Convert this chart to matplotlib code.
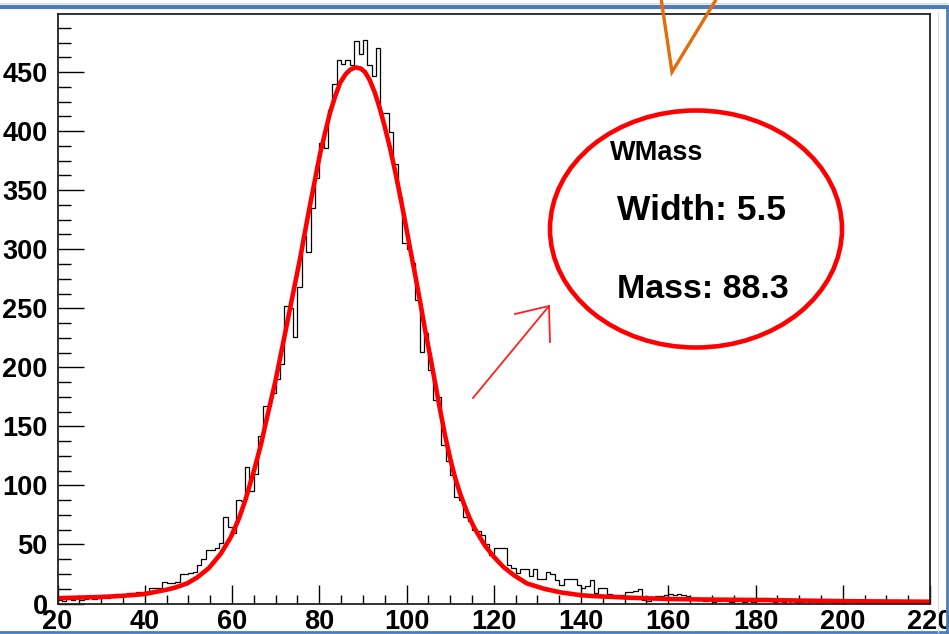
import matplotlib
matplotlib.use("Agg")
import matplotlib.pyplot as plt
from matplotlib.patches import Ellipse
from matplotlib.lines import Line2D
from matplotlib.ticker import MultipleLocator
import numpy as np

# ---------------- data ----------------
bin_low = 20
bin_high = 220
counts = [
    3, 2, 4, 3, 5, 3, 4, 6, 4, 5,
    7, 5, 6, 8, 6, 7, 9, 8, 10, 10,
    10, 13, 13, 13, 18, 17, 17, 18, 25, 25,
    26, 27, 33, 38, 45, 45, 47, 51, 73, 65,
    60, 88, 87, 116, 95, 110, 142, 167, 167, 178,
    190, 203, 252, 250, 226, 268, 311, 298, 335, 360,
    390, 386, 418, 440, 460, 457, 460, 456, 476, 465,
    477, 456, 447, 470, 415, 415, 399, 372, 344, 305,
    300, 288, 257, 213, 229, 198, 172, 175, 134, 121,
    109, 90, 88, 73, 70, 62, 61, 58, 50, 41,
    47, 47, 47, 33, 30, 26, 29, 29, 23, 29,
    21, 21, 27, 25, 20, 16, 21, 21, 21, 16,
    13, 15, 20, 9, 13, 13, 8, 7, 7, 7,
    10, 10, 11, 12, 3, 2, 5, 6, 6, 7,
    8, 7, 8, 7, 6, 4, 4, 3, 2, 3,
    1, 2, 4, 2, 1, 2, 3, 1, 2, 1,
    2, 5, 5, 2, 1, 2, 1, 0, 2, 1,
    1, 0, 1, 2, 0, 1, 1, 0, 1, 0,
    1, 3, 3, 1, 0, 1, 0, 1, 3, 0,
    1, 0, 3, 0, 1, 0, 1, 0, 1, 0,
]

fit_x = [20, 25, 30, 35, 40, 42, 44.8, 47, 49.7, 52, 54.7, 57.4, 59.7, 61.6,
         63.1, 65, 66.6, 68, 70, 71.8, 73.7, 75.6, 77.5, 79.4, 80.2, 81.3,
         82.5, 83.7, 84.8, 86, 87.1, 88.3, 89.5, 90.5, 91.6, 92.8, 93.9, 95,
         96.2, 97.4, 98.5, 99.7, 100.8, 102, 103.2, 104.3, 105.5, 106.6,
         107.7, 108.8, 110, 111.1, 112.3, 113.4, 114.5, 115.7, 117, 118,
         119.9, 122.2, 124.6, 127.6, 131.5, 135.2, 140, 142.8, 150.5, 160,
         170, 180, 190, 200, 210, 220]
fit_y = [4.5, 5, 5.5, 6.5, 8, 9.5, 11.5, 13.5, 17, 22, 30, 42, 56, 72,
         88, 112, 134, 157, 189, 222, 257, 292, 330, 366, 381, 398,
         416, 430, 441, 448, 452, 454, 453, 450, 443, 432, 419, 404,
         386, 366, 346, 323, 301, 278, 254, 231, 208, 186,
         164, 143, 123, 107, 93, 82, 72, 63, 55, 49,
         40, 31, 24, 17, 12.5, 9.5, 7, 6.3, 5, 3.8,
         3.3, 3, 2.5, 2, 1.7, 1.5]

x_ticks = [20, 40, 60, 80, 100, 120, 140, 160, 180, 200, 220]
y_ticks = [0, 50, 100, 150, 200, 250, 300, 350, 400, 450]

title_text = "WMass"
width_text = "Width: 5.5"
mass_text = "Mass: 88.3"

# ---------------- figure ----------------
W, H = 949, 634
fig = plt.figure(figsize=(W / 100, H / 100), dpi=100)
fig.patch.set_facecolor("white")
FONT = "Liberation Sans"

def fx(px):
    return px / W

def fy(py):
    return 1 - py / H

ax_l, ax_r, ax_t, ax_b = 57.5, 930, 13.5, 603.5
ax = fig.add_axes([fx(ax_l), fy(ax_b), (ax_r - ax_l) / W, (ax_b - ax_t) / H])

edges = np.arange(bin_low, bin_high + 1, 1)
ax.stairs(counts, edges, color="black", linewidth=0.9, baseline=None)
ax.plot(fit_x, fit_y, color="#ff0000", linewidth=3.3, solid_capstyle="butt")

ax.set_xlim(bin_low, bin_high)
ax.set_ylim(0, 499.6)

ax.set_xticks(x_ticks)
ax.set_yticks(y_ticks)
ax.xaxis.set_minor_locator(MultipleLocator(5))
ax.yaxis.set_minor_locator(MultipleLocator(12.5))
ax.tick_params(axis="both", which="both", direction="in", top=False, right=False,
               width=1.0, color="black")
ax.tick_params(axis="y", which="major", length=18.7, pad=7)
ax.tick_params(axis="y", which="minor", length=9.4)
ax.tick_params(axis="x", which="major", length=13.7, pad=4)
ax.tick_params(axis="x", which="minor", length=6.8)
for lab in ax.get_xticklabels() + ax.get_yticklabels():
    lab.set_fontfamily(FONT)
    lab.set_fontweight("bold")
    lab.set_fontsize(19.5)
for s in ax.spines.values():
    s.set_linewidth(1.3)
    s.set_color("#222222")

# ---------------- slide decorations ----------------
blue = "#4A7EBB"
fig.add_artist(Line2D([0, fx(947)], [fy(2.5), fy(2.5)], color="#d5dcea", lw=1.0,
                      transform=fig.transFigure))
fig.add_artist(Line2D([0, fx(947)], [fy(7), fy(7)], color=blue, lw=3.0,
                      transform=fig.transFigure))
fig.add_artist(Line2D([fx(946.5), fx(946.5)], [fy(7), fy(632)], color=blue, lw=2.0,
                      transform=fig.transFigure))
fig.add_artist(Line2D([0, fx(947)], [fy(632), fy(632)], color=blue, lw=2.0,
                      transform=fig.transFigure))
fig.add_artist(Line2D([fx(938), fx(938)], [fy(12), fy(632)], color="#dddddd", lw=0.8,
                      transform=fig.transFigure))

orange = "#E46C0A"
fig.add_artist(Line2D([fx(661), fx(672), fx(717)], [fy(-2), fy(72), fy(-2)],
                      color=orange, lw=2.4, transform=fig.transFigure,
                      solid_joinstyle="miter"))

# red arrow
fig.add_artist(Line2D([fx(473), fx(549)], [fy(398), fy(306)], color="#ff2020", lw=1.3,
                      transform=fig.transFigure))
fig.add_artist(Line2D([fx(515), fx(549), fx(550)], [fy(314), fy(306), fy(342)],
                      color="#ff2020", lw=1.3, transform=fig.transFigure))

# red ellipse
fig.add_artist(Ellipse((fx(696), fy(229)), 292 / W, 237 / H, fill=False,
                       edgecolor="#ff0000", lw=3.3, transform=fig.transFigure))

fig.text(fx(610), fy(153), title_text, fontfamily=FONT, fontweight="bold",
         fontsize=19.5, va="center", ha="left", color="black")
fig.text(fx(617), fy(211), width_text, fontfamily=FONT, fontweight="bold",
         fontsize=25.5, va="center", ha="left", color="black")
fig.text(fx(617), fy(290), mass_text, fontfamily=FONT, fontweight="bold",
         fontsize=24.5, va="center", ha="left", color="black")

fig.savefig("out.png", dpi=100)
